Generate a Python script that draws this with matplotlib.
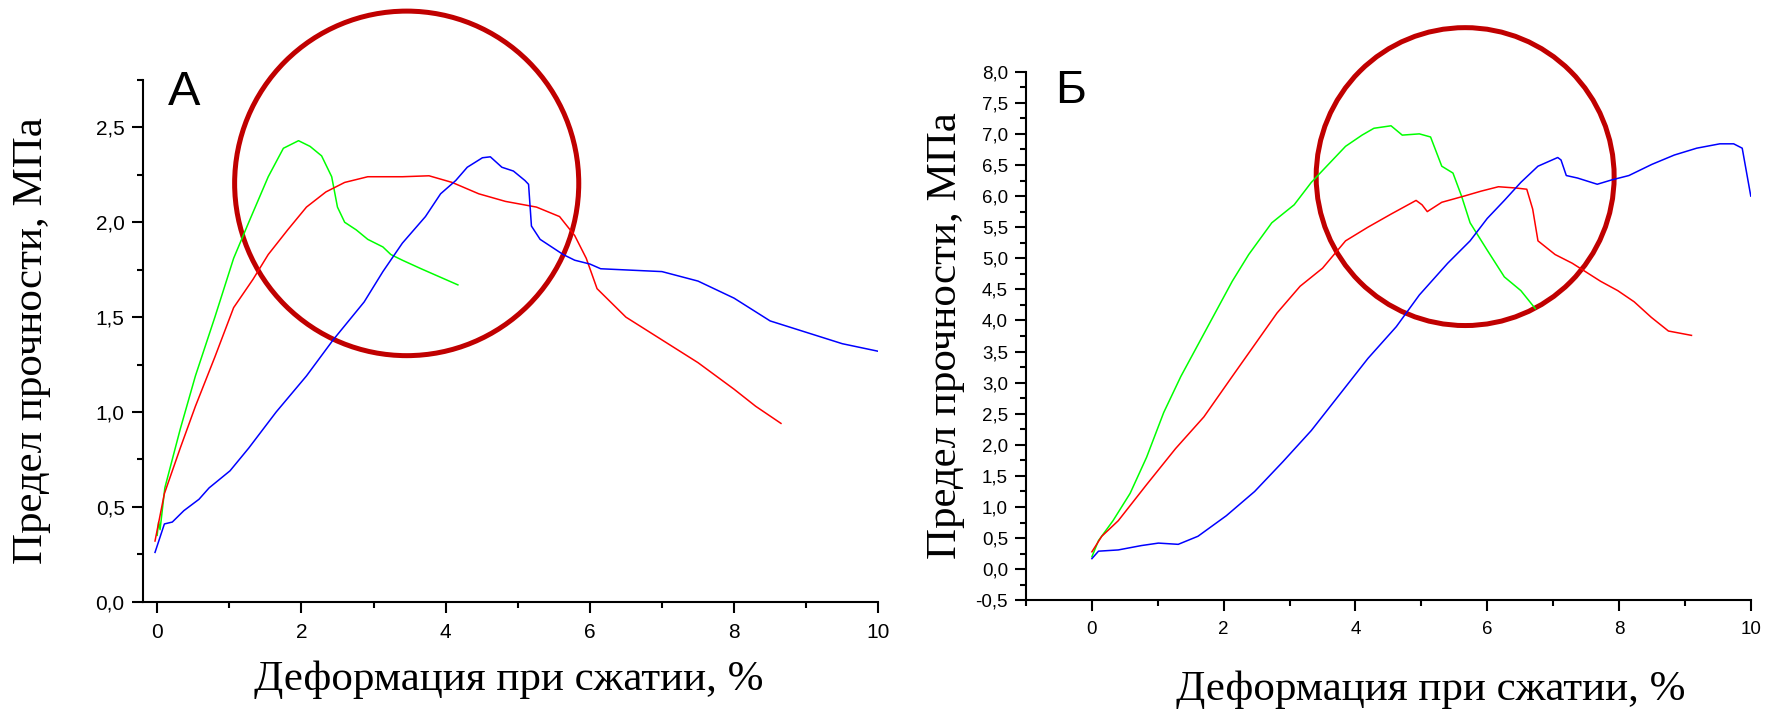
import numpy as np
import matplotlib
matplotlib.use("Agg")
import matplotlib.pyplot as plt
from matplotlib.patches import Ellipse
from matplotlib.ticker import MultipleLocator, FuncFormatter

## panel A (deformation %, strength MPa)
a_green_x = [0.0, 0.02, 0.04, 0.106, 0.32, 0.53, 0.8, 1.06, 1.27, 1.54, 1.75, 1.96, 2.12, 2.28, 2.42, 2.5, 2.6, 2.76, 2.92, 3.13, 3.24, 3.4, 3.66, 3.93, 4.17]
a_green_y = [0.35, 0.42, 0.38, 0.6, 0.91, 1.19, 1.5, 1.81, 2.0, 2.24, 2.39, 2.43, 2.40, 2.35, 2.24, 2.08, 2.0, 1.96, 1.91, 1.87, 1.83, 1.80, 1.755, 1.71, 1.67]

a_red_x = [-0.03, 0.1, 0.32, 0.53, 0.8, 1.06, 1.33, 1.54, 1.81, 2.07, 2.34, 2.6, 2.92, 3.4, 3.77, 4.09, 4.46, 4.83, 5.26, 5.58, 5.79, 5.95, 6.1, 6.5, 7.0, 7.5, 8.0, 8.3, 8.65]
a_red_y = [0.32, 0.57, 0.81, 1.03, 1.29, 1.55, 1.70, 1.83, 1.96, 2.08, 2.16, 2.21, 2.24, 2.24, 2.245, 2.21, 2.15, 2.11, 2.08, 2.03, 1.93, 1.81, 1.65, 1.5, 1.38, 1.26, 1.12, 1.03, 0.94]

a_blue_x = [-0.03, 0.1, 0.21, 0.37, 0.58, 0.72, 1.01, 1.27, 1.65, 2.07, 2.44, 2.87, 3.13, 3.4, 3.72, 3.93, 4.14, 4.3, 4.51, 4.62, 4.78, 4.94, 5.1, 5.15, 5.19, 5.31, 5.47, 5.63, 5.79, 6.0, 6.15, 7.0, 7.5, 8.0, 8.5, 9.0, 9.5, 10.0]
a_blue_y = [0.26, 0.41, 0.42, 0.48, 0.54, 0.6, 0.69, 0.81, 1.0, 1.19, 1.38, 1.58, 1.74, 1.89, 2.03, 2.15, 2.22, 2.29, 2.34, 2.345, 2.29, 2.27, 2.22, 2.2, 1.98, 1.91, 1.87, 1.83, 1.80, 1.78, 1.755, 1.74, 1.69, 1.60, 1.48, 1.42, 1.36, 1.32]

## panel B
b_green_x = [0.0, 0.1, 0.32, 0.58, 0.83, 1.09, 1.35, 1.61, 1.87, 2.13, 2.38, 2.73, 3.07, 3.33, 3.59, 3.85, 4.1, 4.28, 4.54, 4.71, 4.97, 5.14, 5.31, 5.48, 5.61, 5.74, 6.0, 6.26, 6.51, 6.73]
b_green_y = [0.2, 0.46, 0.78, 1.22, 1.8, 2.52, 3.1, 3.61, 4.12, 4.63, 5.06, 5.57, 5.86, 6.22, 6.51, 6.8, 6.98, 7.09, 7.13, 6.98, 7.0, 6.95, 6.48, 6.37, 6.0, 5.57, 5.13, 4.7, 4.48, 4.19]

b_red_x = [0.0, 0.15, 0.4, 0.83, 1.27, 1.7, 2.13, 2.47, 2.81, 3.16, 3.5, 3.85, 4.19, 4.54, 4.92, 5.01, 5.09, 5.31, 5.65, 5.91, 6.17, 6.43, 6.6, 6.69, 6.77, 7.03, 7.29, 7.72, 7.98, 8.23, 8.49, 8.75, 9.1]
b_red_y = [0.28, 0.53, 0.78, 1.36, 1.94, 2.45, 3.1, 3.61, 4.12, 4.55, 4.84, 5.28, 5.5, 5.71, 5.93, 5.86, 5.75, 5.9, 6.0, 6.08, 6.15, 6.13, 6.11, 5.79, 5.28, 5.06, 4.92, 4.63, 4.48, 4.3, 4.05, 3.83, 3.76]

b_blue_x = [0.0, 0.1, 0.4, 0.75, 1.01, 1.31, 1.61, 2.04, 2.47, 2.9, 3.33, 3.76, 4.19, 4.62, 4.97, 5.4, 5.74, 6.0, 6.26, 6.51, 6.77, 7.07, 7.12, 7.2, 7.37, 7.67, 7.89, 8.15, 8.5, 8.84, 9.18, 9.53, 9.74, 9.87, 10.0]
b_blue_y = [0.17, 0.29, 0.31, 0.38, 0.42, 0.4, 0.53, 0.86, 1.25, 1.73, 2.23, 2.81, 3.39, 3.9, 4.41, 4.92, 5.28, 5.64, 5.93, 6.22, 6.48, 6.62, 6.58, 6.33, 6.29, 6.19, 6.26, 6.33, 6.51, 6.66, 6.77, 6.84, 6.84, 6.77, 6.0]

## highlight circles (center x, center y, radius x, radius y) in data units
circle_a = (3.46, 2.205, 2.386, 0.908)
circle_b = (5.665, 6.313, 2.261, 2.395)

label_x = "Деформация при сжатии, %"
label_y = "Предел прочности, МПа"

comma = FuncFormatter(lambda v, p: ("%.1f" % v).replace(".", ","))

fig = plt.figure(figsize=(17.69, 7.09), dpi=100)
axA = fig.add_axes([0.0807, 0.1513, 0.4158, 0.7359])
axB = fig.add_axes([0.5800, 0.1533, 0.4097, 0.7456])

def style(ax, tick_size):
    for s in ["top", "right"]:
        ax.spines[s].set_visible(False)
    for s in ["left", "bottom"]:
        ax.spines[s].set_linewidth(1.5)
    ax.tick_params(which="major", direction="out", length=8, width=1.5,
                   labelsize=tick_size, labelfontfamily="Liberation Sans")
    ax.tick_params(which="minor", direction="out", length=4.5, width=1.5)
    ax.tick_params(axis="y", pad=5)
    ax.tick_params(axis="x", pad=7)
    ax.xaxis.set_major_locator(MultipleLocator(2))
    ax.xaxis.set_minor_locator(MultipleLocator(1))
    ax.yaxis.set_major_formatter(comma)

# panel A
axA.plot(a_green_x, a_green_y, color="#00ff00", lw=1.1)
axA.plot(a_red_x, a_red_y, color="#ff0000", lw=1.1)
axA.plot(a_blue_x, a_blue_y, color="#0000ff", lw=1.1)
axA.set_xlim(-0.2, 10)
axA.set_ylim(0, 2.75)
style(axA, 15)
axA.yaxis.set_major_locator(MultipleLocator(0.5))
axA.yaxis.set_minor_locator(MultipleLocator(0.25))
axA.set_xlabel(label_x, fontfamily="Liberation Serif", fontsize=31)
axA.set_ylabel(label_y, fontfamily="Liberation Serif", fontsize=31)
axA.xaxis.set_label_coords(0.498, -0.112)
axA.yaxis.set_label_coords(-0.125, 0.5)
axA.text(0.034, 0.952, "А", transform=axA.transAxes, fontsize=35,
         fontfamily="Liberation Sans", va="baseline")
cx, cy, rx, ry = circle_a
axA.add_patch(Ellipse((cx, cy), 2 * rx, 2 * ry, fill=False, ec="#c00000", lw=3.6, clip_on=False))

# panel B
axB.plot(b_green_x, b_green_y, color="#00ff00", lw=1.1)
axB.plot(b_red_x, b_red_y, color="#ff0000", lw=1.1)
axB.plot(b_blue_x, b_blue_y, color="#0000ff", lw=1.1)
axB.set_xlim(-1, 10)
axB.set_ylim(-0.5, 8.0)
style(axB, 13.5)
axB.yaxis.set_major_locator(MultipleLocator(0.5))
axB.yaxis.set_minor_locator(MultipleLocator(0.25))
axB.set_xlabel(label_x, fontfamily="Liberation Serif", fontsize=31)
axB.set_ylabel(label_y, fontfamily="Liberation Serif", fontsize=31)
axB.xaxis.set_label_coords(0.559, -0.132)
axB.yaxis.set_label_coords(-0.084, 0.5)
axB.text(0.04, 0.940, "Б", transform=axB.transAxes, fontsize=34,
         fontfamily="Liberation Sans", va="baseline")
cx, cy, rx, ry = circle_b
axB.add_patch(Ellipse((cx, cy), 2 * rx, 2 * ry, fill=False, ec="#c00000", lw=3.6, clip_on=False))

fig.savefig("out.png", dpi=100)
